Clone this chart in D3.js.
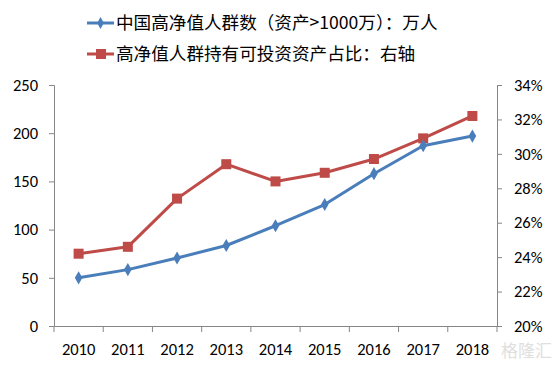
<!DOCTYPE html>
<html><head><meta charset="utf-8">
<script src="https://cdn.jsdelivr.net/npm/d3@7"></script>
<style>body{margin:0;background:#fff}svg{display:block}</style>
</head><body>
<svg id="c" width="555" height="369"></svg>
<script>
const years = ["2010","2011","2012","2013","2014","2015","2016","2017","2018"];
const hnwiCount = [50, 58.5, 70.5, 83.5, 104, 126, 158, 187, 197];
const investShare = [0.242, 0.246, 0.274, 0.294, 0.284, 0.289, 0.297, 0.309, 0.322];
const leftTicks = [0, 50, 100, 150, 200, 250];
const rightTicks = [0.20, 0.22, 0.24, 0.26, 0.28, 0.30, 0.32, 0.34];
const seriesNames = ["中国高净值人群数（资产>1000万）：万人", "高净值人群持有可投资资产占比：右轴"];
const colors = ["#4a7ebb", "#be4b48"];

const svg = d3.select("#c");
const font = "Calibri, Carlito, 'Open Sans', 'Noto Sans CJK SC', sans-serif";
const L = 54, R = 497, T = 85, B = 326;

const x = d3.scaleBand().domain(years).range([L, R]);
const yL = d3.scaleLinear().domain([0, 250]).range([B, T]);
const yR = d3.scaleLinear().domain([0.20, 0.34]).range([B, T]);

function styleAxis(g){
  g.selectAll("path,line").attr("stroke","#868686");
  g.selectAll("text").attr("fill","#000").style("font-family",font).style("font-size","16.5px");
}
svg.append("g").attr("transform",`translate(${L},0)`)
  .call(d3.axisLeft(yL).tickValues(leftTicks).tickSizeOuter(0).tickSize(5).tickPadding(11))
  .call(styleAxis);
svg.append("g").attr("transform",`translate(${R},0)`)
  .call(d3.axisRight(yR).tickValues(rightTicks).tickFormat(d3.format(".0%")).tickSizeOuter(0).tickSize(5).tickPadding(12))
  .call(styleAxis);
svg.append("g").attr("transform",`translate(0,${B})`)
  .call(d3.axisBottom(x).tickSize(0).tickPadding(17))
  .call(styleAxis);
const bounds = years.map(d => x(d)).concat([R]);
svg.append("g").selectAll("line").data(bounds).join("line")
  .attr("x1",d=>d).attr("x2",d=>d).attr("y1",B).attr("y2",B+6).attr("stroke","#868686");

const cx = d => x(d) + x.bandwidth()/2;
const lineL = d3.line().x((d,i)=>cx(years[i])).y(d=>yL(d));
const lineR = d3.line().x((d,i)=>cx(years[i])).y(d=>yR(d));

svg.append("path").datum(investShare).attr("d",lineR).attr("fill","none")
  .attr("stroke",colors[1]).attr("stroke-width",3).attr("stroke-linejoin","round");
svg.append("g").selectAll("rect").data(investShare).join("rect")
  .attr("x",(d,i)=>cx(years[i])-5).attr("y",d=>yR(d)-5).attr("width",10).attr("height",10)
  .attr("fill",colors[1]);

svg.append("path").datum(hnwiCount).attr("d",lineL).attr("fill","none")
  .attr("stroke",colors[0]).attr("stroke-width",3).attr("stroke-linejoin","round");
svg.append("g").selectAll("path.m").data(hnwiCount).join("path")
  .attr("d",d3.symbol().type(d3.symbolDiamond).size(50))
  .attr("transform",(d,i)=>`translate(${cx(years[i])},${yL(d)})`)
  .attr("fill",colors[0]);

const lg = svg.append("g");
seriesNames.forEach((name,i)=>{
  const yy = 23 + i*31;
  lg.append("line").attr("x1",87).attr("x2",114).attr("y1",yy).attr("y2",yy)
    .attr("stroke",colors[i]).attr("stroke-width",3);
  if(i===0){
    lg.append("path").attr("d",d3.symbol().type(d3.symbolDiamond).size(40)())
      .attr("transform",`translate(100.5,${yy})`).attr("fill",colors[i]);
  } else {
    lg.append("rect").attr("x",96).attr("y",yy-5).attr("width",10).attr("height",10).attr("fill",colors[i]);
  }
  lg.append("text").attr("x",116).attr("y",yy).attr("dy","0.36em")
    .style("font-family","'Noto Sans CJK SC', sans-serif").style("font-size","17.6px")
    .attr("fill","#000").text(name);
});

svg.append("text").attr("x",552).attr("y",357).attr("text-anchor","end")
  .style("font-family","'Noto Sans CJK SC', sans-serif").style("font-size","17px")
  .attr("fill","#d8d8d8").attr("opacity",0.8).text("格隆汇");
</script>
</body></html>
